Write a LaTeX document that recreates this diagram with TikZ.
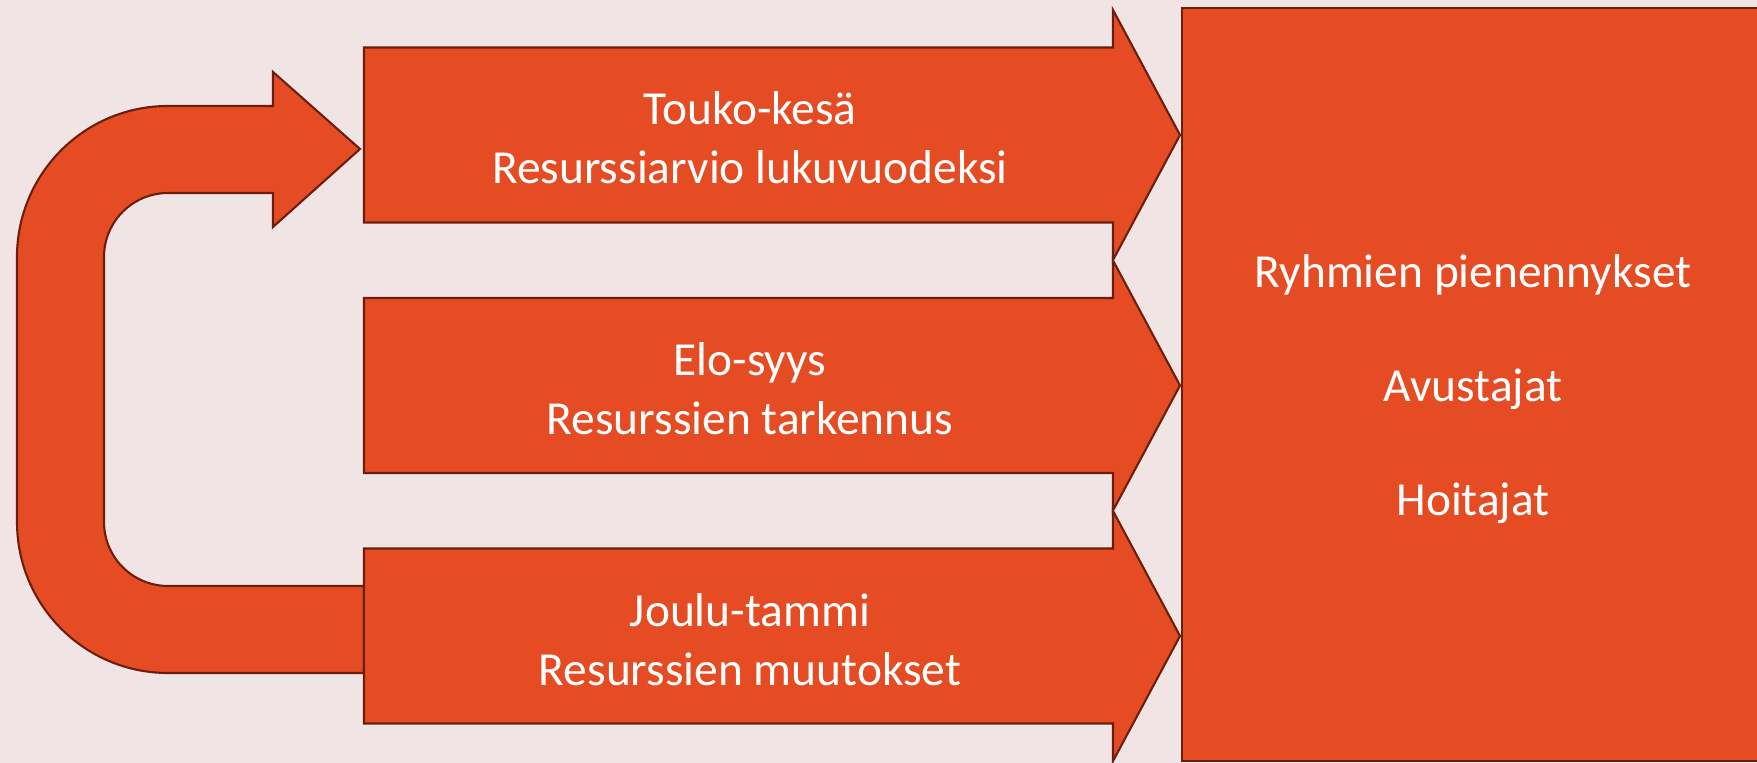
\documentclass[tikz,border=0pt]{standalone}
\usepackage{fontspec}
\setmainfont{Carlito}
\definecolor{bgc}{RGB}{240,228,229}
\definecolor{fillc}{RGB}{230,76,35}
\definecolor{edgec}{RGB}{108,30,12}
\tikzset{
  shapefill/.style={fill=fillc, draw=edgec, line width=1.2pt, line join=miter},
  lbl/.style={text=white, align=center, font=\fontsize{27}{33.5}\selectfont, inner sep=0pt},
}
\begin{document}
\begin{tikzpicture}[x=0.02cm,y=0.02cm]
\clip (0,0) rectangle (1757,763);
\fill[bgc] (0,0) rectangle (1757,763);
\useasboundingbox (0,0) rectangle (1757,763);
% U-turn arrow
\draw[shapefill] (364,90) -- (168,90) arc[start angle=270,end angle=180,radius=151]
  -- (17,506) arc[start angle=180,end angle=90,radius=151]
  -- (273,657) -- (273,691) -- (360,614) -- (273,536) -- (273,570)
  -- (168,570) arc[start angle=90,end angle=180,radius=64]
  -- (104,241) arc[start angle=180,end angle=270,radius=64]
  -- (364,177) -- cycle;
% three arrows
\foreach \c in {628,377.5,127}{
  \draw[shapefill] (364,\c+87.5) -- (1113,\c+87.5) -- (1113,\c+125) -- (1180,\c)
    -- (1113,\c-125) -- (1113,\c-87.5) -- (364,\c-87.5) -- cycle;
}
% right box
\draw[shapefill] (1182,2) rectangle (1790,755);
\node[lbl] (a1) at (750,625) {Touko-kesä\\Resurssiarvio lukuvuodeksi};
\node[lbl] (a2) at (750,374) {Elo-syys\\Resurssien tarkennus};
\node[lbl] (a3) at (750,123) {Joulu-tammi\\Resurssien muutokset};
\node[lbl] (r) at (1473,374) {Ryhmien pienennykset\\[31.5pt]Avustajat\\[31.5pt]Hoitajat};
\end{tikzpicture}
\end{document}
